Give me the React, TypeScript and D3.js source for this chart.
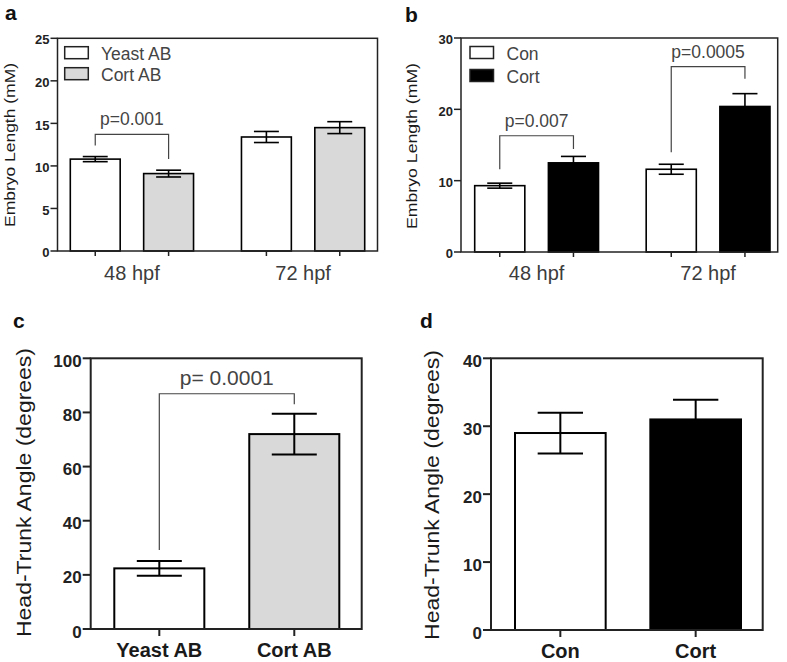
import React from "react";
import * as d3 from "d3";

const FONT = "'Liberation Sans', Arial, Helvetica, sans-serif";

// ---------- Panel a ----------
const aGroups = ["48 hpf", "72 hpf"];
const aSeries = ["Yeast AB", "Cort AB"];
const aMeans = [[10.8, 9.1], [13.4, 14.5]];
const aErrors = [[0.3, 0.4], [0.65, 0.7]];
const aTicks = [0, 5, 10, 15, 20, 25];
const aBracketLabels = ["p=0.001"];
const aBracketGroup = [0];
const aBracketTop = [13.7];
const aBracketLeftEnd = [12.4];
const aBracketRightEnd = [10.8];

// ---------- Panel b ----------
const bGroups = ["48 hpf", "72 hpf"];
const bSeries = ["Con", "Cort"];
const bMeans = [[9.3, 12.5], [11.6, 20.4]];
const bErrors = [[0.35, 0.9], [0.7, 1.8]];
const bTicks = [0, 10, 20, 30];
const bBracketLabels = ["p=0.007", "p=0.0005"];
const bBracketGroup = [0, 1];
const bBracketTop = [16.3, 26.0];
const bBracketLeftEnd = [11.6, 14.0];
const bBracketRightEnd = [14.45, 24.3];

// ---------- Panel c ----------
const cCategories = ["Yeast AB", "Cort AB"];
const cMeans = [22.4, 72.0];
const cErrors = [2.7, 7.5];
const cTicks = [0, 20, 40, 60, 80, 100];
const cBracketLabels = ["p= 0.0001"];
const cBracketTop = [86.9];
const cBracketLeftEnd = [29.2];
const cBracketRightEnd = [83.0];

// ---------- Panel d ----------
const dCategories = ["Con", "Cort"];
const dMeans = [29.0, 31.0];
const dErrors = [3.0, 2.9];
const dTicks = [0, 10, 20, 30, 40];

type Bracket = { g: number; top: number; le: number; re: number; label: string };

type PanelProps = {
  letter: string;
  letterPos: [number, number];
  frame: { x0: number; x1: number; y0: number; y1: number };
  band: [number, number];
  groupPad: number;
  seriesPad: number;
  groups: string[];
  series: string[];
  means: number[][];
  errors: number[][];
  fills: string[];
  yMax: number;
  ticks: number[];
  tickLen: number;
  tickFont: number;
  tickDy: number;
  xTickLen: number;
  xLabelMode: "group" | "series";
  xLabelFont: number;
  xLabelBold: boolean;
  xLabelColor: string;
  xLabelY: number;
  title: string;
  titleX: number;
  titleCY: number;
  titleFont: number;
  titleLen: number;
  frameWidth: number;
  barWidth: number;
  brackets: Bracket[];
  pFont: number;
  legend?: { x: number; y: number; w: number; h: number; gap: number; textDx: number; font: number };
};

function Panel(p: PanelProps) {
  const y = d3.scaleLinear().domain([0, p.yMax]).range([p.frame.y1, p.frame.y0]);
  const xg = d3.scaleBand<string>().domain(p.groups).range(p.band).paddingInner(p.groupPad).paddingOuter(0);
  const xs = d3.scaleBand<string>().domain(p.series).range([0, xg.bandwidth()]).paddingInner(p.seriesPad).paddingOuter(0);
  const left = (g: number, s: number) => (xg(p.groups[g]) as number) + (xs(p.series[s]) as number);
  const cx = (g: number, s: number) => left(g, s) + xs.bandwidth() / 2;
  const bw = xs.bandwidth();
  const cap = bw / 2;

  const bars: JSX.Element[] = [];
  const errs: JSX.Element[] = [];
  const xTicks: JSX.Element[] = [];
  p.groups.forEach((gName, g) => {
    p.series.forEach((sName, s) => {
      const m = p.means[g][s];
      const e = p.errors[g][s];
      const c = cx(g, s);
      bars.push(
        <rect key={`b${g}-${s}`} x={left(g, s)} y={y(m)} width={bw} height={y(0) - y(m)}
          fill={p.fills[s]} stroke="#000" strokeWidth={p.barWidth} />
      );
      errs.push(
        <g key={`e${g}-${s}`} stroke="#000" strokeWidth={p.barWidth} fill="none">
          <line x1={c} x2={c} y1={y(m - e)} y2={y(m + e)} />
          <line x1={c - cap / 2} x2={c + cap / 2} y1={y(m + e)} y2={y(m + e)} />
          <line x1={c - cap / 2} x2={c + cap / 2} y1={y(m - e)} y2={y(m - e)} />
        </g>
      );
      xTicks.push(
        <line key={`xt${g}-${s}`} x1={c} x2={c} y1={p.frame.y1} y2={p.frame.y1 + p.xTickLen}
          stroke="#222" strokeWidth={p.frameWidth} />
      );
    });
  });

  const xLabels: JSX.Element[] = [];
  if (p.xLabelMode === "group") {
    p.groups.forEach((gName, g) => {
      const c = (xg(gName) as number) + xg.bandwidth() / 2;
      xLabels.push(
        <text key={`xl${g}`} x={c} y={p.xLabelY} textAnchor="middle" fontSize={p.xLabelFont}
          fontWeight={p.xLabelBold ? "bold" : "normal"} fill={p.xLabelColor}>{gName}</text>
      );
    });
  } else {
    p.series.forEach((sName, s) => {
      xLabels.push(
        <text key={`xl${s}`} x={cx(0, s)} y={p.xLabelY} textAnchor="middle" fontSize={p.xLabelFont}
          fontWeight={p.xLabelBold ? "bold" : "normal"} fill={p.xLabelColor}>{sName}</text>
      );
    });
  }

  return (
    <g fontFamily={FONT}>
      <text x={p.letterPos[0]} y={p.letterPos[1]} fontSize={21} fontWeight="bold" fill="#111">{p.letter}</text>
      {bars}
      {errs}
      <rect x={p.frame.x0} y={p.frame.y0} width={p.frame.x1 - p.frame.x0} height={p.frame.y1 - p.frame.y0}
        fill="none" stroke="#222" strokeWidth={p.frameWidth} />
      {p.ticks.map((t) => (
        <g key={`yt${t}`}>
          <line x1={p.frame.x0 - p.tickLen} x2={p.frame.x0} y1={y(t)} y2={y(t)} stroke="#222" strokeWidth={p.frameWidth} />
          <text x={p.frame.x0 - p.tickLen - 1} y={y(t) + p.tickFont * 0.36 + p.tickDy} textAnchor="end"
            fontSize={p.tickFont} fontWeight="bold" fill="#222">{t}</text>
        </g>
      ))}
      {xTicks}
      {xLabels}
      <text transform={`translate(${p.titleX},${p.titleCY}) rotate(-90)`} textAnchor="middle"
        fontSize={p.titleFont} fill="#1a1a1a" textLength={p.titleLen} lengthAdjust="spacingAndGlyphs">{p.title}</text>
      {p.brackets.map((b, i) => {
        const lx = cx(b.g, 0);
        const rx = cx(b.g, 1);
        const path = `M${lx},${y(b.le)}V${y(b.top)}H${rx}V${y(b.re)}`;
        return (
          <g key={`br${i}`}>
            <path d={path} fill="none" stroke="#444" strokeWidth={1.2} />
            <text x={(lx + rx) / 2} y={y(b.top) - 9} textAnchor="middle" fontSize={p.pFont} fill="#444">{b.label}</text>
          </g>
        );
      })}
      {p.legend &&
        p.series.map((sName, s) => (
          <g key={`lg${s}`}>
            <rect x={p.legend!.x} y={p.legend!.y + s * p.legend!.gap} width={p.legend!.w} height={p.legend!.h}
              fill={p.fills[s]} stroke="#222" strokeWidth={1.5} />
            <text x={p.legend!.x + p.legend!.textDx} y={p.legend!.y + s * p.legend!.gap + p.legend!.h + 1}
              fontSize={p.legend!.font} fill="#444">{sName}</text>
          </g>
        ))}
    </g>
  );
}

export default function App() {
  const mk = (labels: string[], groups: number[], tops: number[], les: number[], res: number[]): Bracket[] =>
    labels.map((label, i) => ({ g: groups[i], top: tops[i], le: les[i], re: res[i], label }));

  return (
    <svg width={787} height={662} style={{ position: "absolute", left: 0, top: 0, background: "#fff" }}>
      <rect x={0} y={0} width={787} height={662} fill="#fff" />
      <Panel
        letter="a" letterPos={[5, 20]}
        frame={{ x0: 57.5, x1: 377.5, y0: 38.3, y1: 251 }}
        band={[70.3, 364.7]} groupPad={0.28} seriesPad={0.32}
        groups={aGroups} series={aSeries} means={aMeans} errors={aErrors}
        fills={["#ffffff", "#d9d9d9"]}
        yMax={25} ticks={aTicks} tickLen={7} tickFont={13} tickDy={1.5} xTickLen={5}
        xLabelMode="group" xLabelFont={20} xLabelBold={false} xLabelColor="#3c3c3c" xLabelY={279.5}
        title="Embryo Length (mM)" titleX={15} titleCY={145} titleFont={15} titleLen={164}
        frameWidth={1.5} barWidth={1.6}
        brackets={mk(aBracketLabels, aBracketGroup, aBracketTop, aBracketLeftEnd, aBracketRightEnd)}
        pFont={17.5}
        legend={{ x: 64.7, y: 46.7, w: 23.6, h: 12, gap: 21, textDx: 36.3, font: 17.5 }}
      />
      <Panel
        letter="b" letterPos={[405, 21.5]}
        frame={{ x0: 461, x1: 777.7, y0: 38, y1: 252 }}
        band={[474.7, 770]} groupPad={0.278} seriesPad={0.32}
        groups={bGroups} series={bSeries} means={bMeans} errors={bErrors}
        fills={["#ffffff", "#000000"]}
        yMax={30} ticks={bTicks} tickLen={7} tickFont={13} tickDy={1.5} xTickLen={5}
        xLabelMode="group" xLabelFont={20} xLabelBold={false} xLabelColor="#3c3c3c" xLabelY={279.5}
        title="Embryo Length (mM)" titleX={417} titleCY={146} titleFont={15} titleLen={166}
        frameWidth={1.5} barWidth={1.6}
        brackets={mk(bBracketLabels, bBracketGroup, bBracketTop, bBracketLeftEnd, bBracketRightEnd)}
        pFont={17.5}
        legend={{ x: 470, y: 46.5, w: 23.5, h: 12, gap: 23, textDx: 36.5, font: 17.5 }}
      />
      <Panel
        letter="c" letterPos={[13, 328]}
        frame={{ x0: 90.7, x1: 361.7, y0: 358.3, y1: 629 }}
        band={[114.3, 339.3]} groupPad={0} seriesPad={0.333}
        groups={["all"]} series={cCategories} means={[cMeans]} errors={[cErrors]}
        fills={["#ffffff", "#d9d9d9"]}
        yMax={100} ticks={cTicks} tickLen={8} tickFont={17} tickDy={2.5} xTickLen={7}
        xLabelMode="series" xLabelFont={20} xLabelBold={true} xLabelColor="#1a1a1a" xLabelY={657}
        title="Head-Trunk Angle (degrees)" titleX={31} titleCY={492.5} titleFont={21} titleLen={289}
        frameWidth={2} barWidth={2}
        brackets={mk(cBracketLabels, [0], cBracketTop, cBracketLeftEnd, cBracketRightEnd)}
        pFont={21}
      />
      <Panel
        letter="d" letterPos={[420, 328]}
        frame={{ x0: 491, x1: 762.7, y0: 358.3, y1: 630 }}
        band={[515, 741]} groupPad={0} seriesPad={0.33}
        groups={["all"]} series={dCategories} means={[dMeans]} errors={[dErrors]}
        fills={["#ffffff", "#000000"]}
        yMax={40} ticks={dTicks} tickLen={8} tickFont={17} tickDy={2.5} xTickLen={7}
        xLabelMode="series" xLabelFont={20} xLabelBold={true} xLabelColor="#1a1a1a" xLabelY={658}
        title="Head-Trunk Angle (degrees)" titleX={439} titleCY={495} titleFont={21} titleLen={290}
        frameWidth={2} barWidth={2}
        brackets={[]}
        pFont={21}
      />
    </svg>
  );
}
